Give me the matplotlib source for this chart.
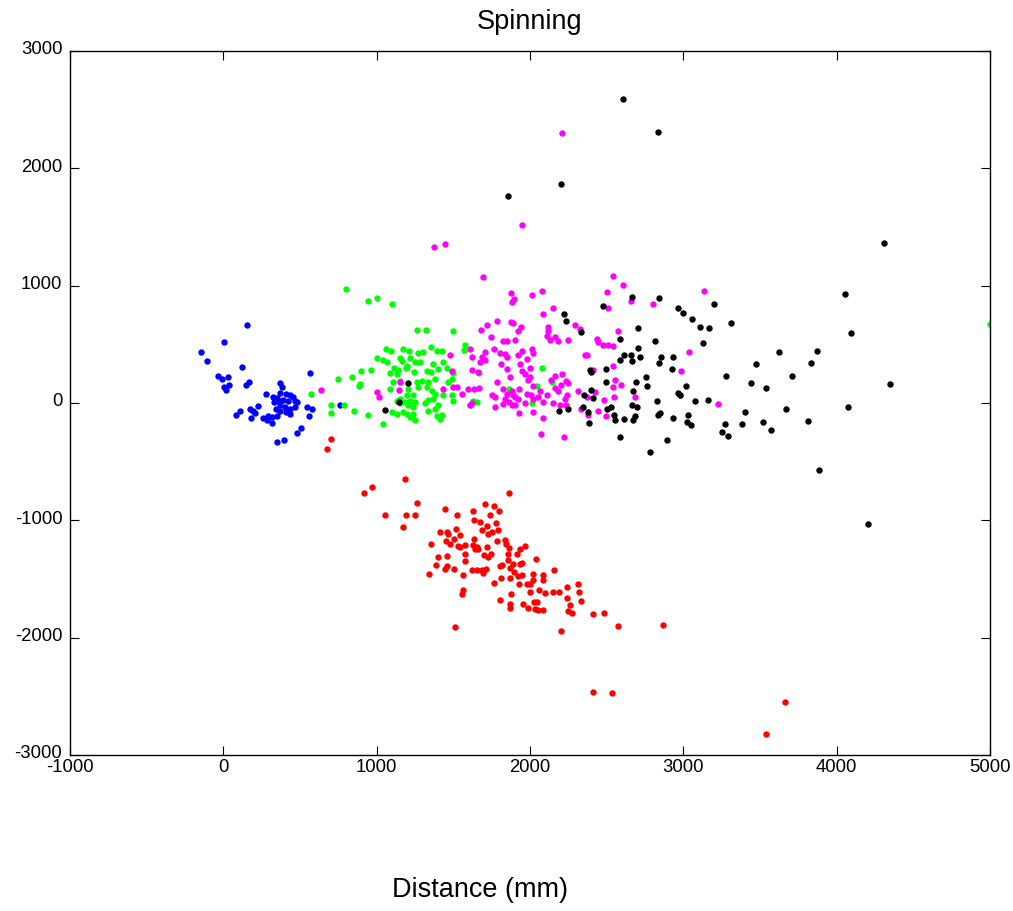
import matplotlib
matplotlib.use("Agg")
import matplotlib.pyplot as plt
import matplotlib.transforms as mtransforms

plt.rcParams['font.family'] = ['Liberation Sans', 'DejaVu Sans']
plt.rcParams['axes.unicode_minus'] = False

# blue group
blue_x = [155, 5, -148, -106, 124, -37, -11, 33, 5, 15, 35, 150, 168, 568, 276, 370, 381, 322, 348, 370,
          409, 435, 457, 331, 359, 391, 424, 468, 344, 370, 402, 435, 468, 409, 435, 370, 479, 107, 85, 174,
          196, 226, 178, 207, 261, 294, 316, 348, 316, 287, 546, 576, 559, 509, 479, 398, 348, 761]
blue_y = [665, 523, 433, 356, 308, 234, 206, 220, 140, 112, 157, 157, 183, 257, 78, 169, 140, 55, 44, 86,
          78, 64, 55, 7, 21, 27, 15, 15, -50, -21, -36, -50, -30, -78, -98, -64, 7, -64, -101, -53,
          -64, -24, -126, -87, -126, -115, -121, -107, -172, -143, -36, -53, -115, -214, -257, -317, -334, -13]

# green group
green_x = [800, 942, 1002, 1102, 1263, 1324, 1500, 1576, 1572,
           1061, 1094, 1172, 1213, 1355, 1392, 1424, 1272, 1300,
           1000, 1044, 1152, 1218, 1250, 1283, 1163, 1065, 1365, 1435,
           1115, 1142, 1192, 1196, 1457, 1402, 961, 900, 1244, 1326, 1355,
           1087, 1131, 1496, 842, 750, 892, 887, 1109, 1152, 1261, 1294, 1337,
           1381, 1468, 1489, 570, 1087, 1207, 1272, 1326, 1359, 1381, 1435, 1489,
           1200, 1240, 1218, 1250, 1152, 1185, 1207, 1240, 1337, 1370, 1316, 1496,
           700, 789, 850, 1098, 1131, 1174, 1218, 1250, 1337, 1381, 1402,
           1392, 1424, 1413, 700, 942, 1044, 1196, 1240, 1229, 1631, 1652,
           1131, 1152, 1670, 2081, 1866, 2048, 2011, 2142, 1609, 5000]
green_y = [972, 870, 895, 841, 625, 625, 611, 498, 455,
           461, 447, 461, 447, 475, 441, 447, 424, 433,
           384, 367, 384, 384, 347, 347, 362, 347, 333, 347,
           299, 282, 299, 319, 299, 291, 282, 271, 262, 271, 262,
           254, 248, 254, 220, 206, 163, 149, 177, 191, 177, 191, 177,
           206, 177, 206, 78, 121, 121, 135, 135, 106, 78, 64, 64,
           64, 64, 21, 7, 35, 7, -21, -36, 27, 35, -1, 15,
           -21, -21, -64, -78, -92, -78, -121, -149, -72, -50, -21,
           -115, -106, -135, -87, -101, -177, -92, -92, -121, 21, 7,
           21, -1, 257, 296, 121, 141, -1, 183, -21, 677]

# magenta group
magenta_x = [2211, 1948, 1376, 1446, 637, 1000, 1015, 1152, 1146, 1489,
             1696, 1876, 1896, 1881, 2011, 2081, 2544, 2505, 2507, 2152, 2083, 2294, 2326, 1787, 1876,
             1892, 1718, 1679, 1942, 1924, 2120, 2120, 1746, 1822, 1848, 1900, 2109, 2131, 2163, 2185,
             2250, 2440, 2446, 2479, 2511, 2544, 2576, 1609, 1620, 1707, 1685, 1707, 1768, 1805, 1837,
             1848, 1946, 1924, 2011, 2022, 1983, 2370, 1479, 1620, 1674, 1663, 1811, 1848, 1935, 1946,
             1968, 2000, 2000, 1990, 1870, 2137, 2163, 2207, 2235, 2250, 2200, 2544, 2544, 1787, 1750,
             1772, 1826, 1848, 1837, 1881, 1887, 1928, 1924, 1979, 2005, 2018, 2066, 2055, 2109, 2018,
             2240, 2229, 2163, 2185, 2087, 2152, 2196, 2235, 2311, 2370, 2424, 2483, 2548, 2446, 2494,
             2381, 1598, 1637, 1668, 1555, 1620, 1609, 1772, 1822, 1866, 1881, 1903, 1928, 2022, 1968,
             2087, 1903, 1435, 2072, 2222, 1500, 1522,
             2605, 2657, 2805, 3137, 3037, 2985, 2594, 2555, 2685, 2980, 3229, 2409, 2359, 2331]
magenta_y = [2300, 1519, 1329, 1355, 115, 92, 55, 183, 115, 271,
             1077, 935, 887, 858, 921, 958, 1085, 943, 807, 807, 759, 665, 631, 702, 694,
             680, 665, 626, 651, 611, 651, 611, 560, 526, 526, 538, 575, 538, 560, 526,
             538, 546, 518, 498, 498, 489, 611, 461, 396, 438, 396, 367, 461, 424, 418,
             396, 447, 410, 461, 424, 376, 410, 410, 282, 348, 262, 333, 291, 333, 271,
             248, 299, 220, 192, 220, 197, 234, 243, 186, 169, 157, 319, 135, 177, 64,
             50, 121, 78, 35, 106, 64, 121, 35, 78, 64, 35, 106, 50, 64, 141,
             64, 35, 129, 106, 7, -1, -21, -21, 106, 55, 92, 27, 50, -64, -112,
             -106, 121, 121, 129, 78, -1, -21, -36, -7, 7, -21, -21, -87, -78, 3,
             -126, 50, 121, -268, -291, 135, 135,
             1009, 867, 844, 958, 436, 271, 152, 192, 50, 64, -12, 285, 410, -50]

# black group
black_x = [2605, 2837, 2200, 1859, 1202, 1144, 1052,
           2222, 2233, 2333, 2474, 2392, 2494, 2494, 2352, 2396, 2413, 2344, 2381, 2387, 2192, 2250,
           2500, 2526, 2548, 2554, 2587, 2587, 2587,
           2663, 2844, 2968, 2996, 3059, 3109, 3170, 3200, 3309, 2705, 2816, 3126, 2705, 2718, 2613,
           2657, 2663, 2855, 2844, 2935, 3472, 2396, 2924, 2757, 3279, 3440, 2694, 2766, 3018, 2674,
           2968, 2979, 2826, 3077, 3159, 2613, 2668, 2696, 2685, 2674, 2837, 2848, 2935, 3029, 3022,
           3048, 2896, 2783, 3272, 3250, 3289,
           4307, 4055, 4096, 3622, 3874, 3833, 3711, 3542, 4348, 3400, 3381, 3672, 4074, 3520, 3572,
           3813, 3885, 4207]
black_y = [2595, 2311, 1865, 1763, 169, 9, -58,
           759, 702, 603, 830, 282, 294, 180, 72, 112, 41, -36, -78, -172, -64, -50,
           -50, -36, -106, -143, 546, 367, -291,
           906, 895, 807, 767, 716, 651, 640, 844, 680, 640, 526, 512, 472, 396, 413,
           413, 356, 396, 345, 396, 333, 268, 294, 220, 231, 169, 180, 143, 141, 101,
           84, 72, 13, 16, 27, -140, -21, -36, -112, -149, -101, -87, -126, -101, -163,
           -191, -319, -418, -177, -243, -279,
           1366, 932, 600, 435, 447, 344, 231, 129, 166, -75, -175, -50, -38, -166, -229,
           -152, -575, -1032]

# red group
red_x = [700, 678, 1183, 970, 920, 1263, 1052, 1194, 1252, 1174, 1446, 1526, 1626, 1707, 1768,
         1798, 1863, 1637, 1674, 1718, 1685, 1739, 1778, 1790, 1750, 1729, 1515, 1413, 1457, 1463,
         1544, 1452, 1478, 1505, 1533, 1635, 1355, 1402, 1457, 1385, 1446, 1461, 1505, 1344,
         1642, 1664, 1631, 1653, 1577, 1718, 1544, 1787, 1844, 1866, 1837, 1935, 1914, 1968, 1577,
         1577, 1566, 1566, 1555, 1700, 1744, 1729, 1859, 1859, 2040, 1946, 1935, 1816, 1805, 1887,
         1870, 1620, 1653, 1685, 1714, 1696, 2159, 1898, 1946, 1924, 2018, 2083, 1766, 1809, 1870,
         1931, 1979, 2000, 2018, 2083, 2000, 2059, 2098, 2153, 2190, 2240, 2311, 2320, 1877, 1805,
         1870, 1870, 1957, 1990, 2027, 2048, 2033, 2055, 2088, 2240, 2333, 2261, 2250, 2272, 2414,
         2483, 2201, 2575, 2866, 2414, 2533, 3664, 3540, 1511]
red_y = [-305, -396, -651, -714, -765, -853, -958, -958, -958, -1060, -906, -958, -918, -864, -881,
         -918, -765, -994, -1014, -1051, -1080, -958, -1020, -1085, -1099, -1114, -1071, -1099, -1099, -1114,
         -1122, -1176, -1199, -1156, -1221, -1162, -1199, -1312, -1304, -1377, -1411, -1389, -1417, -1454,
         -1241, -1241, -1213, -1227, -1213, -1227, -1227, -1176, -1198, -1232, -1170, -1241, -1283, -1221, -1283,
         -1346, -1468, -1596, -1630, -1298, -1289, -1312, -1283, -1340, -1326, -1363, -1369, -1383, -1391, -1374,
         -1403, -1425, -1420, -1425, -1417, -1448, -1425, -1440, -1462, -1476, -1454, -1468, -1530, -1491, -1491,
         -1539, -1539, -1539, -1505, -1505, -1610, -1596, -1618, -1610, -1610, -1567, -1544, -1610, -1630, -1681,
         -1709, -1746, -1709, -1746, -1695, -1695, -1752, -1760, -1760, -1658, -1686, -1723, -1771, -1788, -1797,
         -1786, -1939, -1902, -1888, -2464, -2475, -2552, -2818, -1911]

fig = plt.figure(figsize=(10.13, 9.11), dpi=100)
ax = fig.add_axes([70 / 1013, 1 - 755 / 911, 920 / 1013, 704 / 911])

ms = 4.6
ax.plot(blue_x, blue_y, 'o', color='#0000ff', ms=ms, mew=0)
ax.plot(green_x, green_y, 'o', color='#00ff00', ms=ms, mew=0)
ax.plot(magenta_x, magenta_y, 'o', color='#ff00ff', ms=ms, mew=0)
ax.plot(black_x, black_y, 'o', color='#000000', ms=ms, mew=0)
ax.plot(red_x, red_y, 'o', color='#ff0000', ms=ms, mew=0)

ax.set_xlim(-1000, 5000)
ax.set_ylim(-3000, 3000)
ax.set_xticks(range(-1000, 5001, 1000))
ax.set_yticks(range(-3000, 3001, 1000))
ax.tick_params(direction='in', length=6.5, top=True, right=True, labelsize=13.3)
ax.tick_params(axis='y', pad=5.5)
ax.tick_params(axis='x', pad=3)
for s in ax.spines.values():
    s.set_linewidth(1.0)

# y labels sit a little above their ticks, like the original
shift = mtransforms.ScaledTranslation(0, 3 / 100, fig.dpi_scale_trans)
for lbl in ax.get_yticklabels():
    lbl.set_transform(lbl.get_transform() + shift)

ax.set_title("Spinning", fontsize=19.5, pad=16)
ax.set_xlabel("Distance (mm)", fontsize=19.5)
ax.xaxis.set_label_coords((480 - 70) / 920, (755 - 890) / 704)
ax.xaxis.label.set_va('center')

fig.savefig("out.png", dpi=100)
